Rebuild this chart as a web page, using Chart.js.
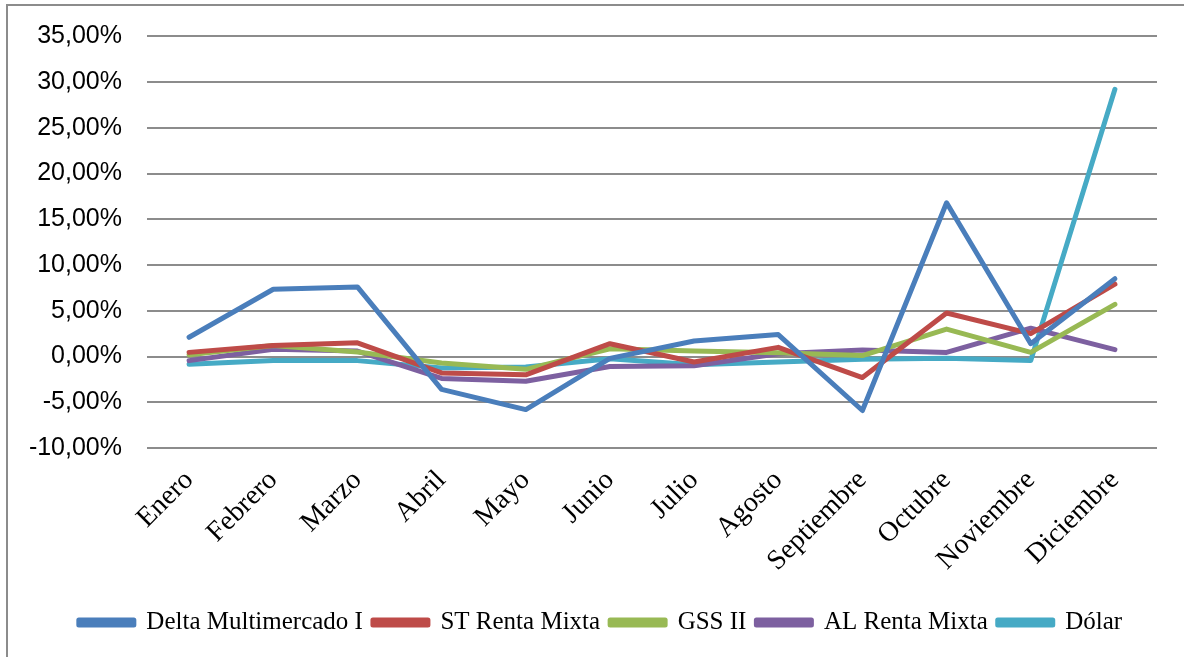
<!DOCTYPE html>
<html>
<head>
<meta charset="utf-8">
<script src="https://cdn.jsdelivr.net/npm/chart.js@4.4.0/dist/chart.umd.min.js"></script>
<style>
  body { margin: 0; background: #fff; overflow: hidden; }
  #wrap { position: absolute; left: 0; top: 0; width: 1184px; height: 657px; overflow: hidden; }
  #frame { position: absolute; left: 6px; top: 4px; width: 1220px; height: 700px; border: 2px solid #8c8c8c; pointer-events: none; box-sizing: border-box; }
</style>
</head>
<body>
<div id="wrap">
  <canvas id="chart" width="1184" height="657"></canvas>
  <div id="frame"></div>
</div>
<script>
// Months on the x axis
const months = ["Enero", "Febrero", "Marzo", "Abril", "Mayo", "Junio", "Julio", "Agosto", "Septiembre", "Octubre", "Noviembre", "Diciembre"];

// Monthly returns in percent
const deltaMultimercado = [2.1, 7.35, 7.6, -3.6, -5.8, -0.2, 1.7, 2.4, -5.9, 16.8, 1.4, 8.5];
const stRentaMixta = [0.45, 1.2, 1.5, -1.8, -2.0, 1.4, -0.6, 1.0, -2.3, 4.75, 2.5, 7.9];
const gssII = [0.2, 1.2, 0.5, -0.7, -1.4, 0.85, 0.6, 0.4, 0.1, 3.0, 0.45, 5.7];
const alRentaMixta = [-0.45, 0.8, 0.6, -2.4, -2.7, -1.1, -1.0, 0.3, 0.7, 0.45, 3.1, 0.75];
const dolar = [-0.85, -0.45, -0.45, -1.25, -1.15, -0.25, -0.9, -0.6, -0.3, -0.2, -0.45, 29.2];

const yTicks = [-10, -5, 0, 5, 10, 15, 20, 25, 30, 35];

function makeSet(label, data, color) {
    return {
        label: label,
        data: data,
        borderColor: color,
        backgroundColor: color,
        borderWidth: 5,
        pointRadius: 0,
        tension: 0,
        borderCapStyle: "round",
        borderJoinStyle: "round",
    };
}

// Nudge the legend right so it sits centred under the whole frame
const legendShift = {
    id: "legendShift",
    afterLayout(chart) {
        chart.legend.left += 22;
        chart.legend.right += 22;
    },
};

const ctx = document.getElementById("chart").getContext("2d");

new Chart(ctx, {
    type: "line",
    data: {
        labels: months,
        datasets: [
            makeSet("Delta Multimercado I", deltaMultimercado, "#4a7ebb"),
            makeSet("ST Renta Mixta", stRentaMixta, "#be4b48"),
            makeSet("GSS II", gssII, "#98b954"),
            makeSet("AL Renta Mixta", alRentaMixta, "#7d60a0"),
            makeSet("Dólar", dolar, "#46aac5"),
        ],
    },
    plugins: [legendShift],
    options: {
        responsive: false,
        animation: false,
        layout: {
            padding: { left: 0, right: 27, top: 21, bottom: 12 },
        },
        plugins: {
            legend: {
                position: "bottom",
                labels: {
                    boxWidth: 55,
                    boxHeight: 5,
                    padding: 10,
                    color: "#000",
                    font: { family: "'Liberation Serif', serif", size: 25 },
                },
            },
            tooltip: { enabled: false },
        },
        scales: {
            x: {
                offset: true,
                grid: { display: false },
                border: { display: false },
                afterFit: (scale) => {
                    scale.height = 152;
                },
                ticks: {
                    minRotation: 45,
                    maxRotation: 45,
                    color: "#000",
                    padding: 8,
                    font: { family: "'Liberation Serif', serif", size: 28 },
                },
            },
            y: {
                min: -10,
                max: 35,
                afterBuildTicks: (scale) => {
                    scale.ticks = yTicks.map((v) => ({ value: v }));
                },
                afterFit: (scale) => {
                    scale.width = 147;
                },
                grid: { color: "#8c8c8c", lineWidth: 2, drawTicks: false },
                border: { display: false },
                ticks: {
                    color: "#000",
                    padding: 25,
                    font: { family: "'Liberation Sans', sans-serif", size: 25, lineHeight: 0.9 },
                    callback: (v) => v.toFixed(2).replace(".", ",") + "%",
                },
            },
        },
    },
});
</script>
</body>
</html>
